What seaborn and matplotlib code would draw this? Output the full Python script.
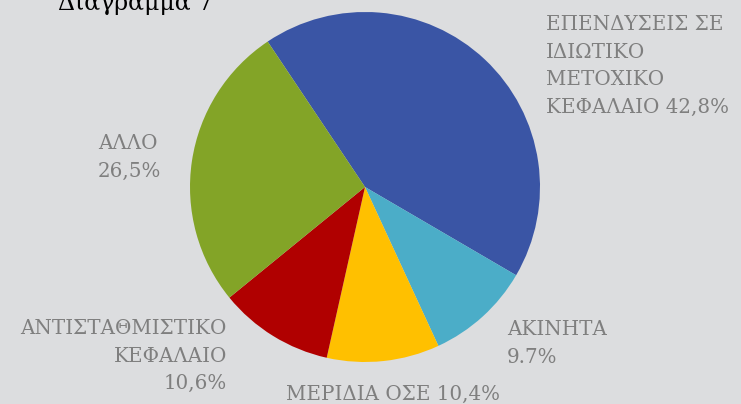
import matplotlib.pyplot as plt
import seaborn as sns

# shares of the pie, clockwise from the top-left
categories = ["ΕΠΕΝΔΥΣΕΙΣ ΣΕ ΙΔΙΩΤΙΚΟ ΜΕΤΟΧΙΚΟ ΚΕΦΑΛΑΙΟ", "ΑΚΙΝΗΤΑ", "ΜΕΡΙΔΙΑ ΟΣΕ",
              "ΑΝΤΙΣΤΑΘΜΙΣΤΙΚΟ ΚΕΦΑΛΑΙΟ", "ΑΛΛΟ"]
shares = [42.8, 9.7, 10.4, 10.6, 26.5]
label_texts = [
    "ΕΠΕΝΔΥΣΕΙΣ ΣΕ\nΙΔΙΩΤΙΚΟ\nΜΕΤΟΧΙΚΟ\nΚΕΦΑΛΑΙΟ 42,8%",
    "ΑΚΙΝΗΤΑ\n9.7%",
    "ΜΕΡΙΔΙΑ ΟΣΕ 10,4%",
    "ΑΝΤΙΣΤΑΘΜΙΣΤΙΚΟ\nΚΕΦΑΛΑΙΟ\n10,6%",
    "ΑΛΛΟ\n26,5%",
]
colors = ["#3a55a5", "#4badc8", "#ffc000", "#b00000", "#83a427"]

sns.set_theme(style="white")
plt.rcParams["font.family"] = ["DejaVu Serif"]

bg = "#dcdddf"
W, H = 741, 404
fig = plt.figure(figsize=(W / 100, H / 100), dpi=100, facecolor=bg)

# pie axes: centre ~ (365, 187) px, radius ~175 px
cx, cy, r = 365, 187, 175
ax = fig.add_axes([(cx - r) / W, (H - cy - r) / H, 2 * r / W, 2 * r / H])
ax.set_facecolor(bg)
ax.pie(shares, colors=colors, startangle=123.8, counterclock=False, radius=1,
       wedgeprops=dict(linewidth=0))
ax.set_xlim(-1, 1)
ax.set_ylim(-1, 1)
ax.set_aspect("equal")
ax.axis("off")

# label placement in pixels (x, top-y, alignment)
label_pos = [
    (546, 15, "left"),
    (507, 320, "left"),
    (286, 385, "left"),
    (227, 319, "right"),
    (98, 134, "left"),
]
for txt, (x, y, ha) in zip(label_texts, label_pos):
    fig.text(x / W, 1 - y / H, txt, ha=ha, va="top", fontsize=14.3,
             color="#7f7f7f", linespacing=1.57, multialignment=ha)

fig.text(58 / W, 1 - 10 / H, "Διάγραμμα 7", ha="left", va="baseline",
         fontsize=17, color="#000000")

fig.savefig("out.png", dpi=100, facecolor=bg)
